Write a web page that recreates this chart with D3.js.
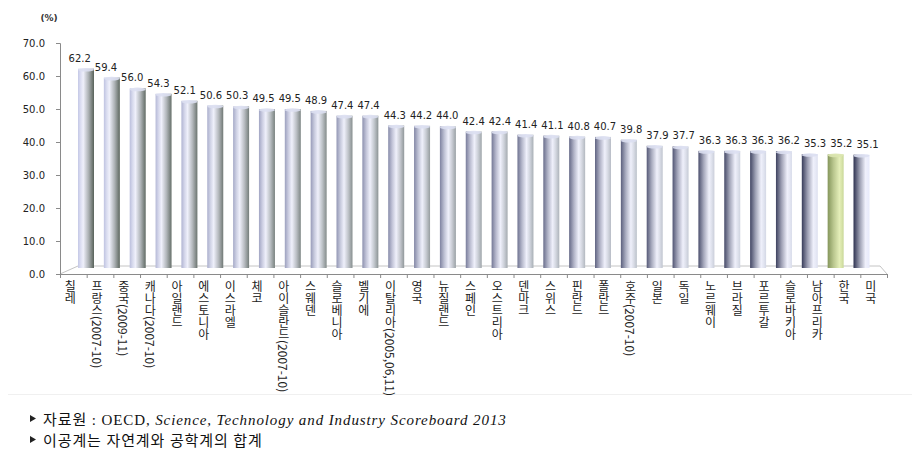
<!DOCTYPE html>
<html><head><meta charset="utf-8">
<script src="https://cdn.jsdelivr.net/npm/d3@7"></script>
<style>
html,body{margin:0;padding:0;background:#fff;}
svg{display:block;}
</style></head>
<body>
<script>
const categories = ["칠레","프랑스(2007-10)","중국(2009-11)","캐나다(2007-10)","아일랜드","에스토니아","이스라엘","체코","아이슬란드(2007-10)","스웨덴","슬로베니아","벨기에","이탈리아(2005,06,11)","영국","뉴질랜드","스페인","오스트리아","덴마크","스위스","핀란드","폴란드","호주(2007-10)","일본","독일","노르웨이","브라질","포르투갈","슬로바키아","남아프리카","한국","미국"];
const values = [62.2,59.4,56.0,54.3,52.1,50.6,50.3,49.5,49.5,48.9,47.4,47.4,44.3,44.2,44.0,42.4,42.4,41.4,41.1,40.8,40.7,39.8,37.9,37.7,36.3,36.3,36.3,36.2,35.3,35.2,35.1];
const yTicks = [0,10,20,30,40,50,60,70];
const highlight = "한국";
const unitLabel = "(%)";
const notes = [
  [{t:"자료원 : OECD, "},{t:"Science, Technology and Industry Scoreboard 2013",i:true}],
  [{t:"이공계는 자연계와 공학계의 합계"}]
];

const W = 912, H = 457;
const svg = d3.select("body").append("svg").attr("width",W).attr("height",H)
  .style("background","#fff");
const defs = svg.append("defs");

const xBand = d3.scaleBand().domain(categories).range([60, 887]);
const xIdx = d3.scaleLinear().domain([0, categories.length]).range([60, 887]);
const barX = d3.scalePoint().domain(categories).range([86, 861.5]);
const yFront = d3.scaleLinear().domain([0,70]).range([274,43]);
const yBack = d3.scaleLinear().domain([0,70]).range([266,44]);
const barW = 16;

// faint frame line
svg.append("line").attr("x1",8).attr("x2",W).attr("y1",394.5).attr("y2",394.5)
  .attr("stroke","#f0f0f0");

// floor
svg.append("path")
  .attr("d",`M60,${yFront(0)} L78,${yBack(0)} L880,${yBack(0)} L887,${yFront(0)}`)
  .attr("fill","none").attr("stroke","#c4c4c4").attr("stroke-width",1);

// cylinder gradients: highlight moves from left to right across the chart
const pal = {
  blue:  {leftA:"#c4c8e6", rightA:"#2e3250", light:"#eff0fb", leftE:"#58625a", rightE:"#e6e9fa"},
  green: {leftA:"#a8b870", rightA:"#84955a", light:"#e4eeb8", leftE:"#6f7f40", rightE:"#ccdb9c"}
};
categories.forEach((c,i)=>{
  const t = i/(categories.length-1);
  const p = c===highlight ? pal.green : pal.blue;
  const A = d3.interpolateRgb(p.leftA, p.rightA)(t);
  const E = d3.interpolateRgb(p.leftE, p.rightE)(t);
  const h = 0.33 + 0.42*t;
  const stops = [
    [0, A],
    [h*0.5, d3.interpolateRgb(A, p.light)(0.55)],
    [h, p.light],
    [h+(1-h)*0.5, d3.interpolateRgb(p.light, E)(0.45)],
    [1, E]
  ];
  const g = defs.append("linearGradient").attr("id","g"+i)
    .attr("x1","0").attr("x2","1").attr("y1","0").attr("y2","0");
  stops.forEach(s=>g.append("stop").attr("offset",s[0]).attr("stop-color",s[1]));
});

// bars
const bars = svg.append("g");
bars.selectAll("rect").data(categories).join("rect")
  .attr("x",d=>barX(d)-barW/2)
  .attr("y",(d,i)=>yBack(values[i]))
  .attr("width",barW)
  .attr("height",(d,i)=>yBack(0)+2-yBack(values[i]))
  .attr("fill",(d,i)=>`url(#g${i})`);
bars.selectAll("ellipse").data(categories).join("ellipse")
  .attr("cx",d=>barX(d))
  .attr("cy",(d,i)=>yBack(values[i])+1)
  .attr("rx",barW/2).attr("ry",1.8)
  .attr("fill",d=>d===highlight?"#dbe6b0":"#dcdff1")
  .attr("opacity",0.9);

// data labels
svg.append("g").selectAll("text").data(categories).join("text")
  .attr("x",d=>(xBand(d)+xBand.bandwidth()/2 + barX(d))/2)
  .attr("y",(d,i)=>yBack(values[i])-7)
  .attr("text-anchor","middle")
  .attr("font-family","'DejaVu Sans', Verdana, sans-serif")
  .attr("font-size",10).attr("fill","#222")
  .text((d,i)=>d3.format(".1f")(values[i]));

// y axis
const ya = svg.append("g").attr("transform","translate(60,0)")
  .call(d3.axisLeft(yFront).tickValues(yTicks).tickFormat(d3.format(".1f"))
    .tickSize(4).tickPadding(11));
ya.select(".domain").attr("stroke","#8a8a8a");
ya.selectAll(".tick line").attr("stroke","#8a8a8a");
ya.selectAll(".tick text").attr("font-family","'DejaVu Sans', Verdana, sans-serif")
  .attr("font-size",10).attr("fill","#222");

// x axis
const xa = svg.append("g").attr("transform",`translate(0,${yFront(0)})`)
  .call(d3.axisBottom(xIdx).tickValues(d3.range(categories.length+1)).tickFormat("")
    .tickSize(4).tickSizeOuter(0));
xa.select(".domain").attr("stroke","#8a8a8a");
xa.selectAll(".tick line").attr("stroke","#8a8a8a");

// x labels (vertical)
svg.append("g").selectAll("text").data(categories).join("text")
  .attr("x",d=>xBand(d)+xBand.bandwidth()/2-3)
  .attr("y",280)
  .style("writing-mode","vertical-rl")
  .style("text-orientation","mixed")
  .attr("font-family","'Noto Sans CJK KR', sans-serif")
  .attr("font-size",12).attr("fill","#222")
  .text(d=>d);

// unit label
svg.append("text").attr("x",49).attr("y",21).attr("text-anchor","middle")
  .attr("font-family","'DejaVu Sans', sans-serif").attr("font-size",9)
  .attr("font-weight","bold").attr("fill","#333").text(unitLabel);

// notes
const ng = svg.append("g");
notes.forEach((line,k)=>{
  const y = 425 + k*21;
  ng.append("path").attr("d",`M30,${y-10} L36,${y-6.5} L30,${y-3} Z`).attr("fill","#222");
  const tx = ng.append("text").attr("x",43).attr("y",y)
    .attr("font-family","'Liberation Serif','Noto Sans CJK KR', serif")
    .attr("font-size",15).attr("fill","#111")
    .style("letter-spacing","0.9px");
  line.forEach(p=>{
    tx.append("tspan").text(p.t).attr("font-style",p.i?"italic":"normal");
  });
});
</script>
</body></html>
